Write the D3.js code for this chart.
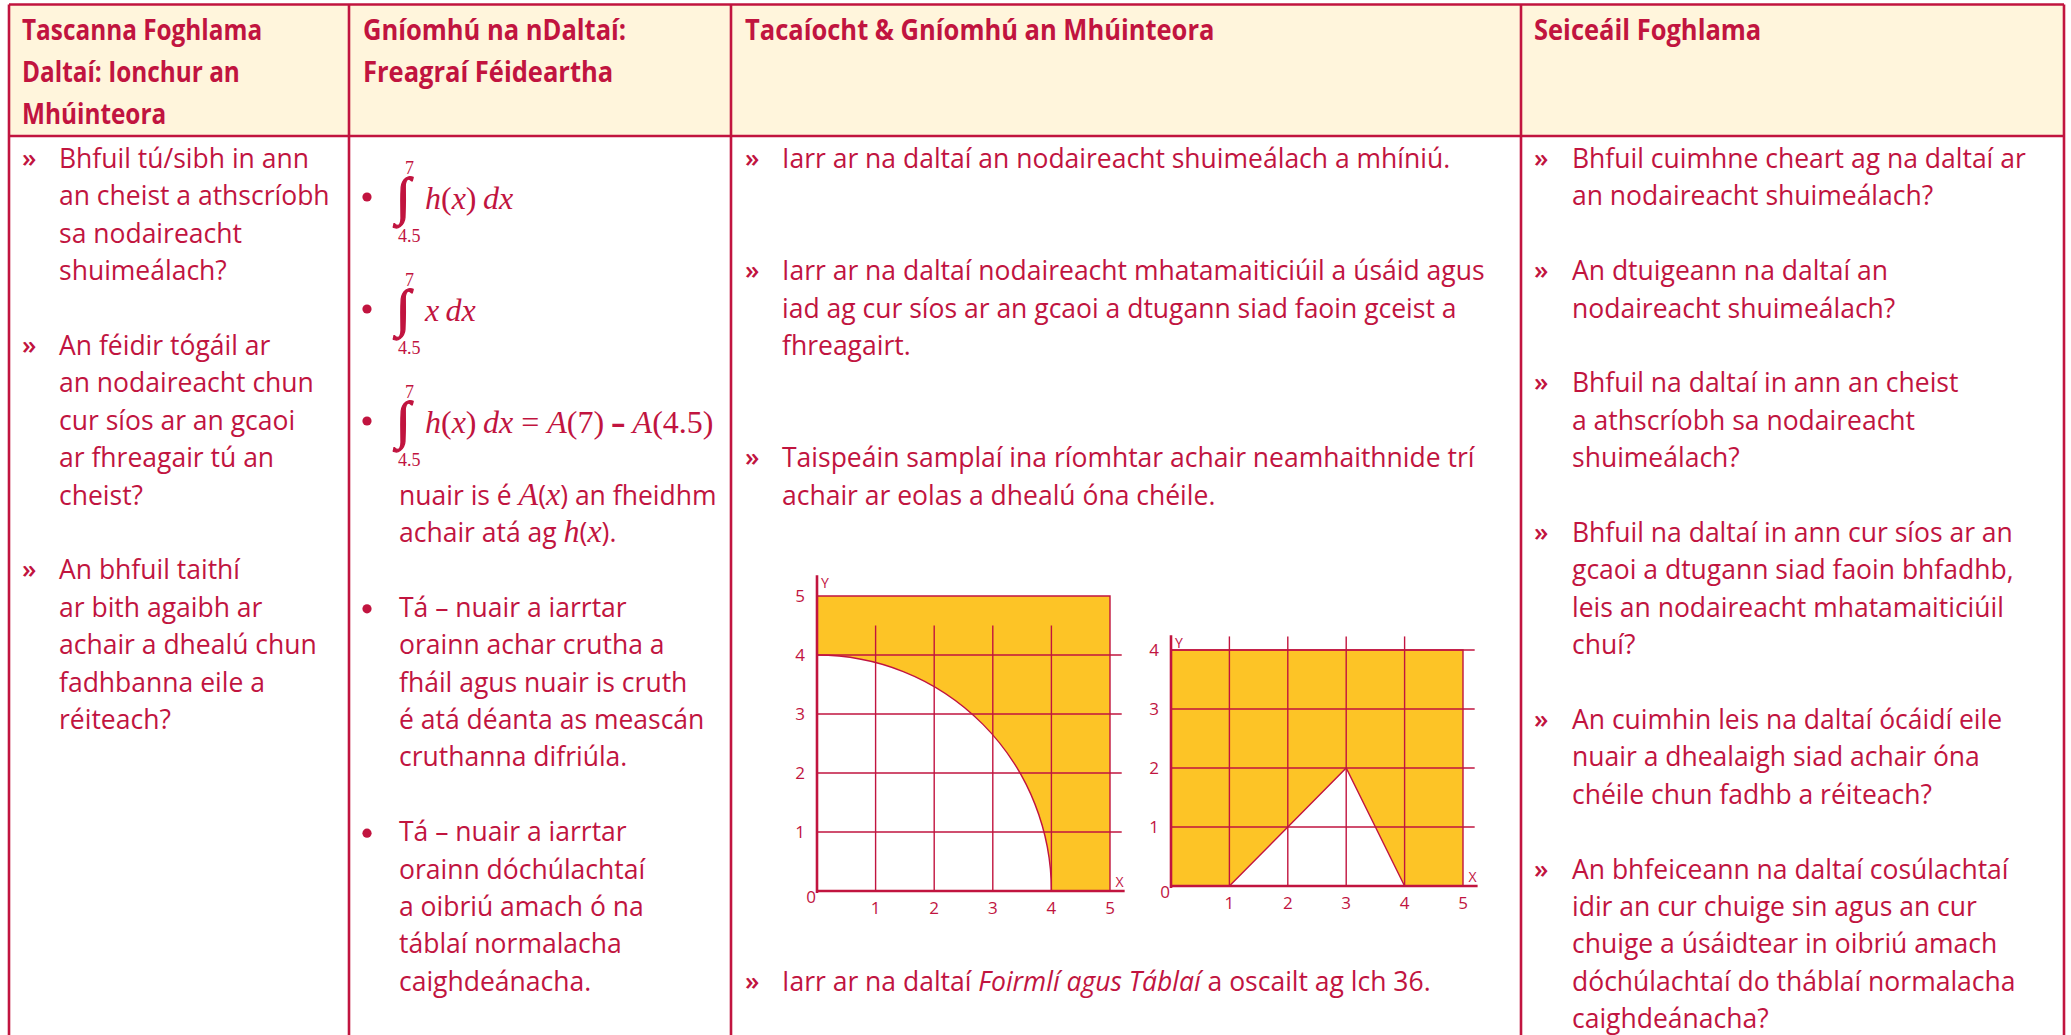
<!DOCTYPE html>
<html>
<head>
<meta charset="utf-8">
<script src="https://cdn.jsdelivr.net/npm/d3@7"></script>
<style>
body{margin:0;background:#fff;}
</style>
</head>
<body>
<script>
// ---- data ----
var headers = [
    ["Tascanna Foghlama", "Daltaí: Ionchur an", "Mhúinteora"],
    ["Gníomhú na nDaltaí:", "Freagraí Féideartha"],
    ["Tacaíocht & Gníomhú an Mhúinteora"],
    ["Seiceáil Foghlama"]
];

var col1Items = [
    ["Bhfuil tú/sibh in ann", "an cheist a athscríobh", "sa nodaireacht", "shuimeálach?"],
    ["An féidir tógáil ar", "an nodaireacht chun", "cur síos ar an gcaoi", "ar fhreagair tú an", "cheist?"],
    ["An bhfuil taithí", "ar bith agaibh ar", "achair a dhealú chun", "fadhbanna eile a", "réiteach?"]
];

var col2Integrals = [
    {upper: "7", lower: "4.5", expr: [["h","m"],["(","u"],["x","m"],[")","u"],["\u2009dx","m"]]},
    {upper: "7", lower: "4.5", expr: [["x","m"],["\u2009dx","m"]]},
    {upper: "7", lower: "4.5", expr: [["h","m"],["(","u"],["x","m"],[")","u"],["\u2009dx","m"],[" = ","u"],
        ["A","m"],["(7)","u"],[" \u2013 ","b"],["A","m"],["(4.5)","u"]]}
];
var col2Note = [
    [["nuair is é ","n"],["A","m"],["(","n"],["x","m"],[") an fheidhm","n"]],
    [["achair atá ag ","n"],["h","m"],["(","n"],["x","m"],[").","n"]]
];
var col2Items = [
    ["Tá \u2013 nuair a iarrtar", "orainn achar crutha a", "fháil agus nuair is cruth", "é atá déanta as meascán", "cruthanna difriúla."],
    ["Tá \u2013 nuair a iarrtar", "orainn dóchúlachtaí", "a oibriú amach ó na", "táblaí normalacha", "caighdeánacha."]
];

var col3Items = [
    ["Iarr ar na daltaí an nodaireacht shuimeálach a mhíniú."],
    ["Iarr ar na daltaí nodaireacht mhatamaiticiúil a úsáid agus",
     "iad ag cur síos ar an gcaoi a dtugann siad faoin gceist a",
     "fhreagairt."],
    ["Taispeáin samplaí ina ríomhtar achair neamhaithnide trí",
     "achair ar eolas a dhealú óna chéile."],
    [[["Iarr ar na daltaí ","n"],["Foirmlí agus Táblaí","i"],[" a oscailt ag lch 36.","n"]]]
];

var col4Items = [
    ["Bhfuil cuimhne cheart ag na daltaí ar", "an nodaireacht shuimeálach?"],
    ["An dtuigeann na daltaí an", "nodaireacht shuimeálach?"],
    ["Bhfuil na daltaí in ann an cheist", "a athscríobh sa nodaireacht", "shuimeálach?"],
    ["Bhfuil na daltaí in ann cur síos ar an", "gcaoi a dtugann siad faoin bhfadhb,", "leis an nodaireacht mhatamaiticiúil", "chuí?"],
    ["An cuimhin leis na daltaí ócáidí eile", "nuair a dhealaigh siad achair óna", "chéile chun fadhb a réiteach?"],
    ["An bhfeiceann na daltaí cosúlachtaí", "idir an cur chuige sin agus an cur", "chuige a úsáidtear in oibriú amach", "dóchúlachtaí do tháblaí normalacha", "caighdeánacha?"]
];

// chart 1: square minus quarter circle
var c1Square = [5, 5];
var c1Radius = 4;
var c1XTicks = [1, 2, 3, 4, 5];
var c1YTicks = [1, 2, 3, 4, 5];
var c1GridX = [1, 2, 3, 4];
var c1GridY = [1, 2, 3, 4];
var c1GridTop = 4.5, c1GridRight = 5.2, c1AxisX = 5.25, c1AxisY = 5.35;

// chart 2: rectangle minus triangle
var c2Rect = [5, 4];
var c2Triangle = [[1, 0], [3, 2], [4, 0]];
var c2XTicks = [1, 2, 3, 4, 5];
var c2YTicks = [1, 2, 3, 4];
var c2GridX = [1, 2, 3, 4];
var c2GridY = [1, 2, 3, 4];
var c2GridTop = 4.23, c2GridRight = 5.2, c2AxisX = 5.25, c2AxisY = 4.25;

// ---- style ----
var red = "#c1143f",
    yellow = "#fdc426",
    cream = "#fff5dc",
    sans = "'Open Sans', 'Noto Sans', sans-serif",
    serif = "'Liberation Serif', 'DejaVu Serif', serif",
    bodySize = 26.5,
    bodyWeight = 500,
    headSize = 29,
    headScale = 0.88,
    pitch = 37.4,
    firstLine = 168;

var colX = [9, 349, 731, 1521, 2064],
    tableTop = 4.5,
    headBottom = 136;

function lineY(k) { return firstLine + pitch * k; }

var svg = d3.select("body").append("svg")
    .attr("width", 2071)
    .attr("height", 1035)
    .style("display", "block");

// ---- table ----
svg.append("rect")
    .attr("x", colX[0]).attr("y", tableTop)
    .attr("width", colX[4] - colX[0]).attr("height", headBottom - tableTop)
    .attr("fill", cream);

var tableLines = svg.append("g").attr("stroke", red).attr("stroke-width", 2.6);
tableLines.selectAll("line.col")
    .data(colX)
    .enter()
    .append("line")
    .attr("class", "col")
    .attr("x1", function(d){ return d; })
    .attr("x2", function(d){ return d; })
    .attr("y1", tableTop)
    .attr("y2", 1040);
tableLines.selectAll("line.row")
    .data([tableTop, headBottom])
    .enter()
    .append("line")
    .attr("class", "row")
    .attr("x1", colX[0])
    .attr("x2", colX[4])
    .attr("y1", function(d){ return d; })
    .attr("y2", function(d){ return d; });

// headers
var headOffsets = [13, 14, 14, 13];
headers.forEach(function(lines, i){
    lines.forEach(function(t, j){
        svg.append("text")
            .attr("transform", "translate(" + (colX[i] + headOffsets[i]) + "," + (39.5 + 42 * j) + ") scale(" + (i === 0 ? 0.84 : headScale) + ",1)")
            .attr("font-family", sans)
            .attr("font-weight", 700)
            .attr("font-size", headSize)
            .attr("fill", red)
            .text(t);
    });
});

// text line helper
function addLine(g, x, y, line) {
    var t = g.append("text")
        .attr("x", x).attr("y", y)
        .attr("font-family", sans)
        .attr("font-size", bodySize)
        .attr("font-weight", bodyWeight)
        .attr("fill", red)
        .attr("xml:space", "preserve");
    if (typeof line === "string") { t.text(line); return t; }
    line.forEach(function(seg){
        var s = t.append("tspan").text(seg[0]);
        if (seg[1] === "i") s.attr("font-style", "italic");
        if (seg[1] === "m") s.attr("font-family", serif).attr("font-style", "italic").attr("font-size", 32).attr("font-weight", 400);
        if (seg[1] === "u") s.attr("font-family", serif).attr("font-size", 32).attr("font-weight", 400);
        if (seg[1] === "b") s.attr("font-family", sans).attr("font-weight", 700).attr("font-size", 28);
    });
    return t;
}

function bullet(g, cx, cy) {
    g.append("circle")
        .attr("cx", cx).attr("cy", cy).attr("r", 4.6)
        .attr("fill", red);
}

function addList(items, rows, marker, markerX, textX) {
    var g = svg.append("g");
    items.forEach(function(lines, i){
        var k = rows[i];
        if (marker === "•") {
            bullet(g, markerX, lineY(k) - 8);
        } else {
            g.append("text")
                .attr("x", markerX).attr("y", lineY(k) - 1)
                .attr("font-family", sans)
                .attr("font-size", 26)
                .attr("font-weight", 600)
                .attr("fill", red)
                .text(marker);
        }
        lines.forEach(function(line, j){
            addLine(g, textX, lineY(k + j), line);
        });
    });
}

addList(col1Items, [0, 5, 11], "»", 22, 59);
addList(col3Items, [0, 3, 8, 22], "»", 745, 782);
addList(col4Items, [0, 3, 6, 10, 15, 19], "»", 1534, 1572);
addList(col2Items, [12, 18], "•", 367, 399);

// integrals in column 2
var mathG = svg.append("g");
col2Integrals.forEach(function(d, i){
    var base = 209 + 112 * i;
    bullet(mathG, 367, base - 12);
    mathG.append("text")
        .attr("transform", "translate(396," + (base + 5) + ") scale(1.15,1.14)")
        .attr("font-family", serif).attr("font-size", 46)
        .attr("fill", red)
        .attr("stroke", red).attr("stroke-width", 1.1)
        .text("\u222B");
    mathG.append("text")
        .attr("x", 405).attr("y", base - 35)
        .attr("font-family", serif).attr("font-size", 18)
        .attr("fill", red)
        .text(d.upper);
    mathG.append("text")
        .attr("x", 398).attr("y", base + 33)
        .attr("font-family", serif).attr("font-size", 18)
        .attr("fill", red)
        .text(d.lower);
    addLine(mathG, 425, base, d.expr);
});
col2Note.forEach(function(line, j){
    addLine(mathG, 399, lineY(9 + j), line);
});

// ---- charts ----
function labels(g, x, y, xt, yt) {
    g.selectAll("text.xt")
        .data(xt)
        .enter()
        .append("text")
        .attr("class", "xt")
        .attr("x", function(d){ return x(d); })
        .attr("y", y(0) + 23)
        .attr("text-anchor", "middle")
        .text(function(d){ return d; });
    g.selectAll("text.yt")
        .data(yt)
        .enter()
        .append("text")
        .attr("class", "yt")
        .attr("x", x(0) - 17)
        .attr("y", function(d){ return y(d) + 6; })
        .attr("text-anchor", "middle")
        .text(function(d){ return d; });
    g.append("text")
        .attr("x", x(0) - 6).attr("y", y(0) + 12)
        .attr("text-anchor", "middle")
        .text("0");
}

function gridLines(g, x, y, gx, gy, top, right) {
    g.selectAll("line.gx")
        .data(gx)
        .enter()
        .append("line")
        .attr("class", "gx")
        .attr("x1", function(d){ return x(d); })
        .attr("x2", function(d){ return x(d); })
        .attr("y1", y(top))
        .attr("y2", y(0));
    g.selectAll("line.gy")
        .data(gy)
        .enter()
        .append("line")
        .attr("class", "gy")
        .attr("x1", x(0))
        .attr("x2", x(right))
        .attr("y1", function(d){ return y(d); })
        .attr("y2", function(d){ return y(d); });
}

function axes(g, x, y, ax, ay) {
    g.append("line")
        .attr("x1", x(0) - 1).attr("x2", x(ax))
        .attr("y1", y(0)).attr("y2", y(0))
        .attr("stroke-width", 2.6);
    g.append("line")
        .attr("x1", x(0)).attr("x2", x(0))
        .attr("y1", y(0) + 2).attr("y2", y(ay))
        .attr("stroke-width", 2.6);
    g.append("text")
        .attr("x", x(0) + 8).attr("y", y(ay) + 13)
        .attr("font-size", 14).attr("fill", red).attr("stroke", "none")
        .attr("text-anchor", "middle")
        .text("Y");
    g.append("text")
        .attr("x", x(ax) - 5).attr("y", y(0) - 4)
        .attr("font-size", 14).attr("fill", red).attr("stroke", "none")
        .attr("text-anchor", "middle")
        .text("X");
}

// chart 1
var x1 = d3.scaleLinear().domain([0, 5]).range([817, 1110]);
var y1 = d3.scaleLinear().domain([0, 5]).range([891, 596]);
var chart1 = svg.append("g").attr("font-family", sans);

var arcPath = d3.path();
arcPath.moveTo(x1(0), y1(c1Square[1]));
arcPath.lineTo(x1(c1Square[0]), y1(c1Square[1]));
arcPath.lineTo(x1(c1Square[0]), y1(0));
arcPath.lineTo(x1(c1Radius), y1(0));
var c1d = arcPath.toString() +
    "A" + (x1(c1Radius) - x1(0)) + "," + (y1(0) - y1(c1Radius)) + " 0 0 0 " + x1(0) + "," + y1(c1Radius) + "Z";
chart1.append("path").attr("d", c1d).attr("fill", yellow);

var grid1 = chart1.append("g").attr("stroke", red).attr("stroke-width", 1.4);
gridLines(grid1, x1, y1, c1GridX, c1GridY, c1GridTop, c1GridRight);
grid1.append("polyline")
    .attr("points", [[x1(0), y1(c1Square[1])], [x1(c1Square[0]), y1(c1Square[1])], [x1(c1Square[0]), y1(0)]].join(" "))
    .attr("fill", "none");
grid1.append("path")
    .attr("d", "M" + x1(c1Radius) + "," + y1(0) + "A" + (x1(c1Radius) - x1(0)) + "," + (y1(0) - y1(c1Radius)) + " 0 0 0 " + x1(0) + "," + y1(c1Radius))
    .attr("fill", "none");
axes(grid1, x1, y1, c1AxisX, c1AxisY);
var lab1 = chart1.append("g").attr("font-size", 17).attr("fill", red);
labels(lab1, x1, y1, c1XTicks, c1YTicks);

// chart 2
var x2 = d3.scaleLinear().domain([0, 5]).range([1171, 1463]);
var y2 = d3.scaleLinear().domain([0, 4]).range([886, 650]);
var chart2 = svg.append("g").attr("font-family", sans);

var c2Points = [[0, 0]].concat(c2Triangle, [[c2Rect[0], 0], [c2Rect[0], c2Rect[1]], [0, c2Rect[1]]]);
chart2.append("path")
    .attr("d", d3.line().x(function(d){ return x2(d[0]); }).y(function(d){ return y2(d[1]); })(c2Points) + "Z")
    .attr("fill", yellow);

var grid2 = chart2.append("g").attr("stroke", red).attr("stroke-width", 1.4);
gridLines(grid2, x2, y2, c2GridX, c2GridY, c2GridTop, c2GridRight);
grid2.append("polyline")
    .attr("points", [[x2(0), y2(c2Rect[1])], [x2(c2Rect[0]), y2(c2Rect[1])], [x2(c2Rect[0]), y2(0)]].join(" "))
    .attr("fill", "none");
grid2.append("path")
    .attr("d", d3.line().x(function(d){ return x2(d[0]); }).y(function(d){ return y2(d[1]); })(c2Triangle))
    .attr("fill", "none");
axes(grid2, x2, y2, c2AxisX, c2AxisY);
var lab2 = chart2.append("g").attr("font-size", 17).attr("fill", red);
labels(lab2, x2, y2, c2XTicks, c2YTicks);
</script>
</body>
</html>
